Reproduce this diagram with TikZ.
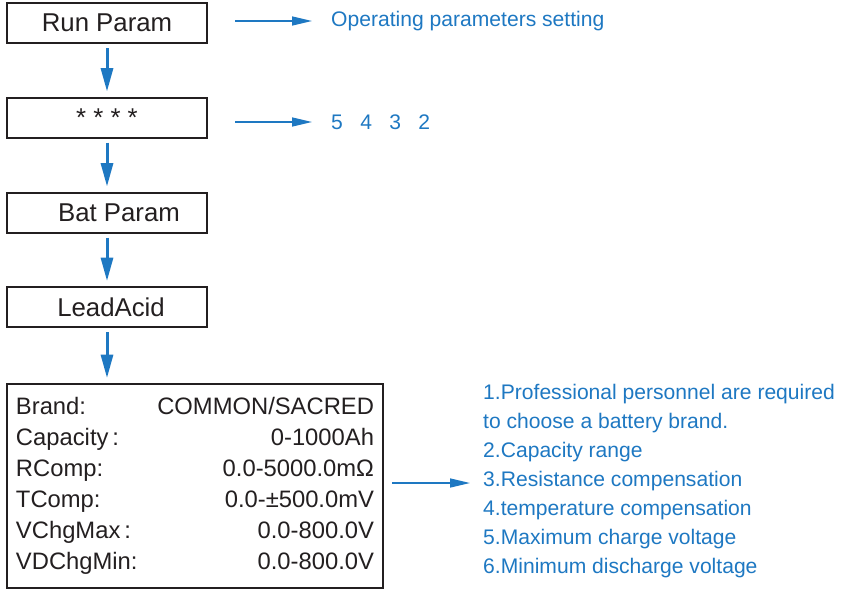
\documentclass[tikz,border=0pt]{standalone}
\usepackage{fontspec}
\setmainfont{Liberation Sans}
\usetikzlibrary{arrows.meta, positioning, calc}
\definecolor{flowblue}{HTML}{1E78C2}
\definecolor{frame}{HTML}{231F20}

\begin{document}
\begin{tikzpicture}[
  x=0.03cm, y=-0.03cm,
  menubox/.style={
    draw=frame, line width=0.06cm, minimum width=6cm, minimum height=1.2cm,
    inner sep=0pt, font=\fontsize{22}{26}\selectfont, text=frame
  },
  listbox/.style={
    draw=frame, line width=0.06cm, minimum width=11.28cm, minimum height=6.12cm,
    inner xsep=0.27cm, inner ysep=0pt, font=\fontsize{20.3}{26.5}\selectfont, text=frame
  },
  downarr/.style={-{Triangle[length=7mm, width=3.6mm]}, line width=0.09cm, flowblue,
    shorten <=0.12cm, shorten >=0.15cm},
  sidearr/.style={-{Triangle[length=6mm, width=2.7mm]}, line width=0.045cm, flowblue},
  note/.style={font=\fontsize{18}{24.8}\selectfont, text=flowblue, inner sep=0pt, align=left},
]

% Canvas
\useasboundingbox (0,0) rectangle (848,589);

% =============================================
% Menu chain
% =============================================
\node[menubox] (run) at (107,23) {Run Param\hspace{0.42cm}};
\node[menubox] (stars) at (107,117.5) {* * * *};
\node[menubox] (bat) at (107,212.5) {\hspace{0.72cm}Bat Param};
\node[menubox] (lead) at (107,307) {\hspace{0.24cm}LeadAcid};

\node[listbox] (params) at (195,486)
  {\begin{tabular*}{10.74cm}{@{}l@{\extracolsep{\fill}}r@{}}
   Brand: & COMMON/SACRED\\
   Capacity\,: & 0-1000Ah\\
   RComp: & 0.0-5000.0mΩ\\
   TComp: & 0.0-±500.0mV\\
   VChgMax\,: & 0.0-800.0V\\
   VDChgMin: & 0.0-800.0V
   \end{tabular*}};

\draw[downarr] (run) -- (stars);
\draw[downarr] (stars) -- (bat);
\draw[downarr] (bat) -- (lead);
\draw[downarr] (lead) -- (lead |- params.north);

% =============================================
% Explanations
% =============================================
\node[note, anchor=west] (optxt) at (331,21) {Operating parameters setting};
\draw[sidearr, shorten <=0.81cm, shorten >=0.57cm] (run.east |- optxt.west) -- (optxt.west);

\node[note, anchor=west] (digits) at (331,122)
  {5\hspace{0.52cm}4\hspace{0.52cm}3\hspace{0.52cm}2};
\draw[sidearr, shorten <=0.81cm, shorten >=0.57cm] (stars.east |- digits.west) -- (digits.west);

\node[note, anchor=north west] (notes) at (483,384)
  {1.Professional personnel are required\\
   to choose a battery brand.\\
   2.Capacity range\\
   3.Resistance compensation\\
   4.temperature compensation\\
   5.Maximum charge voltage\\
   6.Minimum discharge voltage};
\draw[sidearr, shorten <=0.24cm, shorten >=0.39cm] ([yshift=0.09cm]params.east) -- ([yshift=0.09cm]params.east -| notes.west);

\end{tikzpicture}
\end{document}
